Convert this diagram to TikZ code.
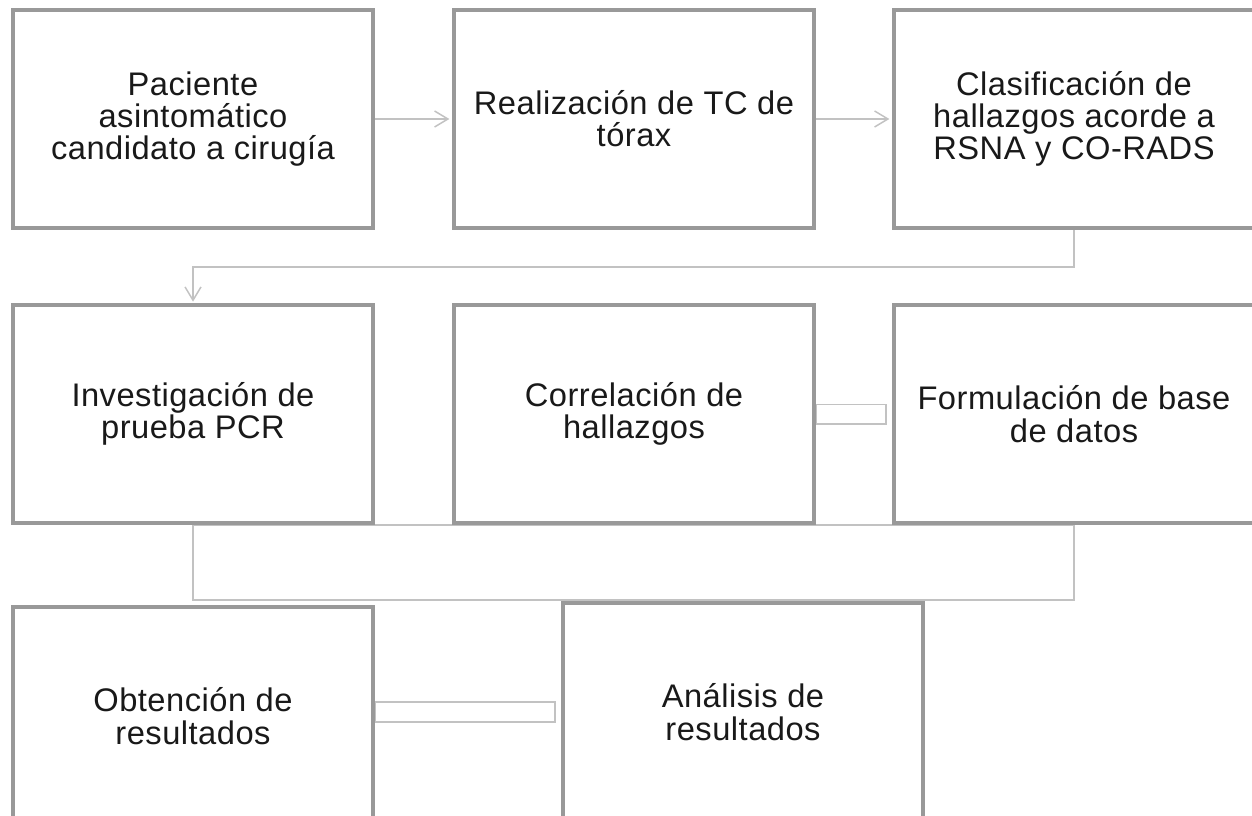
\documentclass[tikz,border=0pt]{standalone}
\usepackage{fontspec}
\setmainfont[LetterSpace=1.5]{Liberation Sans}
\usepackage{xcolor}
\usetikzlibrary{arrows.meta}
\definecolor{boxgray}{HTML}{999999}
\definecolor{linkgray}{HTML}{C2C2C2}
\pgfdeclarelayer{background}
\pgfsetlayers{background,main}

\begin{document}
\begin{tikzpicture}[x=0.75pt,y=-0.75pt,
	stepbox/.style={draw=boxgray, line width=3pt, rectangle, minimum width=270pt, minimum height=163.5pt, align=center, font=\fontsize{24.5pt}{24.2pt}\selectfont, text=black!90},
	link/.style={draw=linkgray, line width=1.1pt},
	tip/.style={-{Straight Barb[length=10pt,width=12pt]}}]
	\useasboundingbox (0,0) rectangle (1252,816);
	% first row
	\node[stepbox] (b1) at (193,119) {Paciente\\asintomático\\candidato a cirugía};
	\node[stepbox] (b2) at (634,119) {Realización de TC de\\tórax};
	\node[stepbox] (b3) at (1074,119) {Clasificación de\\hallazgos acorde a\\RSNA y CO-RADS};
	% second row
	\node[stepbox] (b4) at (193,414) {Investigación de\\prueba PCR};
	\node[stepbox] (b5) at (634,414) {Correlación de\\hallazgos};
	\node[stepbox] (b6) at (1074,414) {Formulación de base\\de datos};
	% third row
	\node[stepbox] (b7) at (193,716) {Obtención de\\resultados};
	\node[stepbox] (b8) at (743,712) {Análisis de\\resultados};
	\begin{pgfonlayer}{background}
		\draw[link,tip] (b1.east) -- ([xshift=-2pt]b2.west);
		\draw[link,tip] (b2.east) -- ([xshift=-2pt]b3.west);
		\draw[link,tip] (b3.south) -- ++(0,37) -| ([yshift=1pt]b4.north);
		\draw[link] (b4.south) -- (b6.south);
		\draw[link] (b4.south) -- ++(0,75) -| (b6.south);
		\draw[link] ([yshift=7pt]b5.east) rectangle ([xshift=-4.5pt,yshift=-7.5pt]b6.west);
		\draw[link] ([yshift=7.5pt]b7.east |- b8.east) rectangle ([xshift=-4.5pt,yshift=-7.5pt]b8.west);
	\end{pgfonlayer}
\end{tikzpicture}
\end{document}
